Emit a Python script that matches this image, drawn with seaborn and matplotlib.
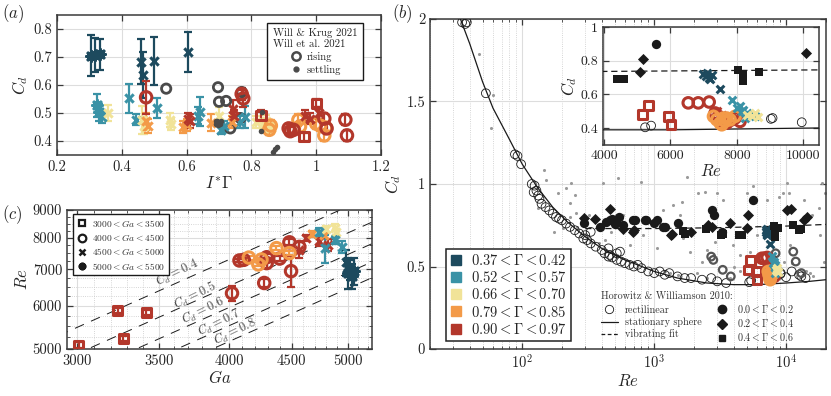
import numpy as np
import pandas as pd
import matplotlib
matplotlib.use("Agg")
import matplotlib.pyplot as plt
import seaborn as sns
from matplotlib.lines import Line2D
from matplotlib.ticker import FixedLocator, FuncFormatter, NullFormatter, LogLocator

# ---------------- data ----------------
COLORS = {"g1": "#1d4a5e", "g2": "#3a92a6", "g3": "#f1e398", "g4": "#f39a48", "g5": "#b3372b"}
GAMMA_LABELS = [r"$0.37 < \Gamma < 0.42$", r"$0.52 < \Gamma < 0.57$", r"$0.66 < \Gamma < 0.70$",
                r"$0.79 < \Gamma < 0.85$", r"$0.90 < \Gamma < 0.97$"]
GA_LABELS = [r"$3000 < Ga < 3500$", r"$4000 < Ga < 4500$", r"$4500 < Ga < 5000$", r"$5000 < Ga < 5500$"]

# panel (a): I*Gamma vs Cd
a_group = ["g1"] * 7 + ["g2"] * 12 + ["g3"] * 11 + ["g4"] * 14 + ["g5"] * 20
a_mark = (["st", "st", "st", "x", "x", "x", "x"]
          + ["st", "st", "x", "x", "x", "x", "x", "x", "x", "x", "x", "x"]
          + ["x"] * 11
          + ["x"] * 6 + ["ci"] * 8
          + ["ci", "x", "x", "ci", "ci", "x", "x", "sq", "ci", "ci", "ci", "sq", "sq", "x", "x", "x", "ci", "ci", "ci", "ci"])
a_ig = [0.305, 0.318, 0.332, 0.458, 0.466, 0.50, 0.603,
        0.325, 0.33, 0.34, 0.422, 0.445, 0.51, 0.642, 0.636, 0.705, 0.715, 0.765, 0.78,
        0.357, 0.463, 0.468, 0.548, 0.553, 0.70, 0.815, 0.835, 0.85, 0.862, 0.845,
        0.475, 0.48, 0.59, 0.60, 0.675, 0.74, 0.855, 0.945, 0.95, 1.0, 1.012, 1.025, 1.03, 0.86,
        0.475, 0.61, 0.605, 0.775, 0.77, 0.742, 0.745, 0.83, 0.915, 0.92, 0.93, 0.962, 1.0, 0.965, 0.98, 1.01,
        1.025, 1.032, 1.09, 1.095]
a_cd = [0.705, 0.708, 0.71, 0.683, 0.636, 0.685, 0.717,
        0.527, 0.503, 0.485, 0.553, 0.476, 0.517, 0.505, 0.49, 0.44, 0.452, 0.468, 0.485,
        0.50, 0.475, 0.455, 0.475, 0.46, 0.49, 0.468, 0.458, 0.45, 0.445, 0.472,
        0.47, 0.455, 0.45, 0.457, 0.465, 0.468, 0.44, 0.475, 0.452, 0.462, 0.455, 0.42, 0.448, 0.455,
        0.556, 0.47, 0.48, 0.552, 0.568, 0.515, 0.49, 0.49, 0.445, 0.435, 0.44, 0.415, 0.535, 0.49, 0.48, 0.50,
        0.48, 0.445, 0.476, 0.42]
a_err = [0.072, 0.06, 0.055, 0.08, 0.082, 0.085, 0.072,
         0.04, 0.03, 0.02, 0.052, 0.02, 0.035, 0.053, 0.03, 0.015, 0.02, 0.02, 0.04,
         0.03, 0.05, 0.03, 0.025, 0.02, 0.03, 0.02, 0.02, 0.02, 0.02, 0.02,
         0.03, 0.025, 0.02, 0.02, 0.03, 0.02, 0.02, 0.02, 0.02, 0.02, 0.02, 0.02, 0.02, 0.02,
         0.06, 0.025, 0.02, 0.03, 0.02, 0.03, 0.02, 0.02, 0.015, 0.015, 0.015, 0.015, 0.015, 0.02, 0.02, 0.02,
         0.02, 0.02, 0.02, 0.02]
# Will & Krug / Will et al. 2021
wk_rise_ig = [0.537, 0.697, 0.70, 0.722, 0.766, 0.735, 0.77]
wk_rise_cd = [0.587, 0.592, 0.54, 0.543, 0.482, 0.445, 0.575]
wk_settle_ig = [0.695, 0.70, 0.69, 0.705, 0.698, 0.692, 0.703, 0.833, 0.83, 0.868, 0.873, 0.878]
wk_settle_cd = [0.47, 0.465, 0.46, 0.47, 0.458, 0.472, 0.46, 0.502, 0.435, 0.362, 0.37, 0.377]

# panel (b): Re vs Cd
st_re = [34, 40, 50, 60, 80, 100, 130, 170, 220, 300, 400, 600, 1000, 1500, 2500, 4000, 6000, 10000, 15000, 20000]
st_cd = [2.0, 1.85, 1.62, 1.46, 1.27, 1.12, 0.98, 0.86, 0.77, 0.68, 0.61, 0.54, 0.47, 0.43, 0.40, 0.39, 0.39, 0.40, 0.41, 0.42]
vf_re = [300, 1000, 3000, 10000, 20000]
vf_cd = [0.73, 0.73, 0.735, 0.745, 0.755]
bg_re = [47, 60, 58, 147, 151, 186, 215, 234, 251, 228,
         408, 531, 175, 323, 421, 472, 256, 579, 1166, 1390,
         1563, 1656, 1862, 2285, 2494, 2884, 3147, 3980, 4467, 5320,
         5980, 8010, 9550, 10720, 12020, 15140, 18150, 19230, 3750, 2094,
         1312, 1040, 822, 651, 459, 324, 202, 131, 15670, 17600,
         12400, 800, 1757, 1611, 2421, 3335, 5020, 7130, 8740, 10420,
         13550, 18670, 10120, 2141, 3010, 5630, 9500, 19500, 230, 260,
         300, 380, 520, 700, 1200, 1500, 2500, 6000, 9000, 14000,
         16000, 11000, 4000, 4500]
bg_cd = [1.786, 1.54, 1.337, 1.085, 1.024, 0.947, 0.978, 1.008, 0.933, 0.883,
         1.004, 1.034, 0.711, 0.812, 0.66, 0.711, 0.822, 0.812, 0.842, 0.873,
         0.812, 0.67, 0.59, 0.529, 0.6, 0.65, 0.691, 0.63, 0.57, 0.59,
         0.691, 0.57, 0.529, 0.63, 0.469, 0.459, 0.691, 0.529, 0.428, 0.459,
         0.459, 0.61, 0.691, 0.63, 0.59, 0.65, 0.731, 0.853, 0.812, 0.853,
         0.731, 1.014, 1.044, 0.893, 0.954, 0.903, 0.948, 0.903, 0.923, 0.944,
         0.903, 1.004, 1.004, 0.944, 0.947, 0.99, 0.947, 0.947, 0.80, 0.74,
         0.70, 0.64, 0.57, 0.53, 0.47, 0.45, 0.43, 0.44, 0.43, 0.47,
         0.44, 0.52, 0.50, 0.47]
rc_re = [35, 37, 38, 53, 88, 92, 98, 118, 124, 122,
         128, 132, 135, 140, 150, 160, 170, 180, 190, 200,
         215, 230, 250, 270, 290, 310, 330, 360, 400, 420,
         450, 480, 520, 560, 600, 650, 700, 750, 800, 900,
         1000, 1100, 1200, 1300, 1500, 1700, 1900, 2300, 2700, 3000,
         3500, 5240, 5420, 9030, 9080, 9960, 11000, 12500, 13000, 14000,
         300, 330, 450, 520, 550, 460]
rc_cd = [1.98, 1.97, 1.98, 1.55, 1.18, 1.17, 1.12, 1.0, 0.99, 0.95,
         0.96, 0.93, 0.91, 0.88, 0.86, 0.84, 0.82, 0.80, 0.79, 0.78,
         0.76, 0.74, 0.72, 0.70, 0.67, 0.66, 0.64, 0.62, 0.60, 0.58,
         0.56, 0.555, 0.54, 0.53, 0.52, 0.51, 0.50, 0.51, 0.49, 0.47,
         0.46, 0.47, 0.45, 0.46, 0.44, 0.43, 0.43, 0.42, 0.43, 0.41,
         0.40, 0.405, 0.415, 0.455, 0.46, 0.435, 0.47, 0.45, 0.44, 0.43,
         0.69, 0.71, 0.61, 0.58, 0.59, 0.57]
wkb_re = [2700, 2800, 3300, 3800, 8300, 11300, 11800, 13000]
wkb_cd = [0.56, 0.54, 0.48, 0.44, 0.58, 0.59, 0.53, 0.46]
hc_re = [296, 385, 430, 459, 480, 500, 515, 540, 579, 690, 711, 846, 873, 1000, 1040, 1166, 1202, 1517, 2722, 2830, 3246, 5570]
hc_cd = [0.762, 0.741, 0.77, 0.782, 0.79, 0.76, 0.772, 0.80, 0.751, 0.782, 0.782, 0.782, 0.782, 0.762, 0.782, 0.741, 0.741, 0.762, 0.842, 0.812, 0.71, 0.90]
hd_re = [296, 355, 459, 579, 690, 700, 1350, 1370, 1900, 2550, 2720, 3760, 5085, 5165, 10090, 10800, 13600, 14300]
hd_cd = [0.796, 0.79, 0.85, 0.725, 0.71, 0.72, 0.69, 0.70, 0.71, 0.751, 0.74, 0.762, 0.735, 0.81, 0.845, 0.85, 0.78, 0.80]
hs_re = [1660, 1700, 2450, 3200, 3300, 4400, 4610, 8030, 8190, 8190, 8670, 11300, 12500, 12900]
hs_cd = [0.714, 0.70, 0.73, 0.69, 0.70, 0.69, 0.69, 0.744, 0.714, 0.68, 0.734, 0.75, 0.72, 0.73]
b_group = ["g5"] * 16 + ["g4"] * 9 + ["g1"] * 7 + ["g2"] * 9 + ["g3"] * 4
b_mark = ["sq"] * 4 + ["ci"] * 10 + ["x"] * 2 + ["ci"] * 9 + ["x"] * 7 + ["x"] * 9 + ["x"] * 4
b_re = [5165, 5335, 5940, 6020, 6540, 6840, 7170, 7350, 7450, 7550, 7700, 7850, 7950, 8100, 7400, 7550,
        7300, 7400, 7500, 7550, 7650, 7700, 7800, 7950, 7600,
        6980, 7080, 7150, 7200, 7250, 7100, 7500,
        7850, 8000, 8100, 8200, 8300, 8400, 8550, 8150, 8250,
        8300, 8450, 8650, 8550]
b_cd = [0.48, 0.535, 0.47, 0.42, 0.55, 0.55, 0.555, 0.49, 0.47, 0.44, 0.43, 0.45, 0.46, 0.44, 0.50, 0.48,
        0.47, 0.45, 0.43, 0.42, 0.44, 0.46, 0.45, 0.47, 0.46,
        0.72, 0.71, 0.70, 0.69, 0.715, 0.725, 0.635,
        0.565, 0.52, 0.53, 0.51, 0.49, 0.48, 0.47, 0.50, 0.46,
        0.48, 0.47, 0.465, 0.49]

# panel (c): Ga vs Re
c_group = ["g5"] * 18 + ["g4"] * 7 + ["g3"] * 3 + ["g2"] * 4 + ["g1"] * 6
c_mark = (["sq"] * 4 + ["ci"] * 10 + ["x"] * 4 + ["ci"] * 5 + ["x"] * 2 + ["x"] * 3 + ["x"] * 4
          + ["x", "st", "x", "st", "st", "x"])
c_ga = [3010, 3240, 3275, 3420, 4020, 4272, 4494, 4077, 4110, 4292, 4292, 4398, 4480, 4565, 4620, 4735, 4822, 4560,
        4150, 4225, 4372, 4480, 4250, 4676, 4780,
        4803, 4880, 4896,
        4735, 4880, 4950, 4790,
        4984, 5000, 5020, 5060, 5040, 4990]
c_re = [5080, 5880, 5230, 5830, 6330, 6610, 6950, 7270, 7290, 7370, 7190, 7330, 7850, 7700, 8000, 7880, 7760, 7600,
        7360, 7150, 7660, 7500, 7300, 8130, 8100,
        8300, 8350, 8200,
        8200, 7930, 7700, 7650,
        7215, 6900, 7000, 6950, 6800, 7050]
c_err = [60, 60, 60, 60, 200, 120, 450, 60, 60, 100, 150, 80, 100, 150, 100, 150, 200, 250,
         60, 60, 60, 60, 60, 100, 100,
         100, 120, 100,
         150, 150, 200, 450,
         400, 450, 300, 400, 350, 200]
cd_lines = [0.4, 0.5, 0.6, 0.7, 0.8]
cd_label_ga = [3623, 3748, 3808, 3921, 4045]
cd_label_re = [6910, 6270, 5890, 5600, 5370]

# ---------------- style ----------------
sns.set_theme(style="ticks")
plt.rcParams.update({
    "font.family": "serif", "font.serif": ["cmr10", "DejaVu Serif"],
    "mathtext.fontset": "cm", "axes.formatter.use_mathtext": True,
    "axes.unicode_minus": False, "legend.fancybox": False,
})

fig = plt.figure(figsize=(8.31, 3.96), dpi=100)
W, H = 831, 396
def box(l, t, r, b):
    return [l / W, 1 - b / H, (r - l) / W, (b - t) / H]
axA = fig.add_axes(box(57, 15, 381, 155))
axC = fig.add_axes(box(67, 210, 372, 349))
axB = fig.add_axes(box(430, 19, 826, 349))
axI = fig.add_axes(box(603, 27, 819, 145))

def style(ax, size=10.5):
    ax.set_axisbelow(True)
    ax.grid(True, which="major", color="#dddddd", lw=0.8)
    for s in ax.spines.values():
        s.set_color("#3a3a3a"); s.set_linewidth(1.1)
    ax.tick_params(which="both", direction="in", top=True, right=True, color="#3a3a3a",
                   labelcolor="#222222", labelsize=size)
    ax.tick_params(which="major", length=4, width=0.9)
    ax.tick_params(which="minor", length=2, width=0.6)

gfmt = FuncFormatter(lambda v, p: f"{v:g}")

def plot_colored(ax, df, xcol, ycol, errcol=None, scale=1.0):
    for (g, m), sub in df.groupby(["group", "mark"], sort=False):
        c = COLORS[g]
        if errcol is not None:
            ax.errorbar(sub[xcol], sub[ycol], yerr=sub[errcol], fmt="none", ecolor=c,
                        elinewidth=1.6, capsize=2.8, capthick=1.6, zorder=3)
        if m in ("sq", "ci"):
            kws = dict(marker="s" if m == "sq" else "o", s=(45 if m == "sq" else 68) * scale,
                       facecolor="none", edgecolor=c, linewidth=2.2, color=c)
        elif m == "x":
            kws = dict(marker="x", s=36 * scale, linewidth=2.2, color=c)
        else:
            kws = dict(marker=(8, 2, 0), s=48 * scale, linewidth=2.2, color=c)
        sns.scatterplot(data=sub, x=xcol, y=ycol, ax=ax, legend=False, zorder=4, **kws)

# ---------------- panel (a) ----------------
dfa = pd.DataFrame({"group": a_group, "mark": a_mark, "ig": a_ig, "cd": a_cd, "err": a_err})
style(axA)
sns.scatterplot(x=wk_rise_ig, y=wk_rise_cd, ax=axA, marker="o", s=45, facecolor="none",
                edgecolor="#4a4a4a", linewidth=2.0, color="#4a4a4a", legend=False, zorder=4)
plot_colored(axA, dfa, "ig", "cd", "err")
sns.scatterplot(x=wk_settle_ig, y=wk_settle_cd, ax=axA, marker="o", s=16, color="#4a4a4a",
                linewidth=0, legend=False, zorder=5)
axA.set_xlim(0.2, 1.2); axA.set_ylim(0.35, 0.85)
axA.xaxis.set_major_locator(FixedLocator([0.2, 0.4, 0.6, 0.8, 1.0, 1.2]))
axA.yaxis.set_major_locator(FixedLocator([0.4, 0.5, 0.6, 0.7, 0.8]))
axA.xaxis.set_major_formatter(gfmt); axA.yaxis.set_major_formatter(gfmt)
axA.set_xlabel(r"$I^{*}\Gamma$", fontsize=12, labelpad=1)
axA.set_ylabel(r"$C_d$", fontsize=12, labelpad=2)
hA = [Line2D([], [], ls="none", marker="o", mfc="none", mec="#4a4a4a", mew=1.8, ms=6),
      Line2D([], [], ls="none", marker="o", mfc="#4a4a4a", mec="#4a4a4a", ms=3.5)]
legA = axA.legend(hA, ["rising", "settling"], title="Will & Krug 2021\nWill et al. 2021",
                  loc="upper right", bbox_to_anchor=(0.944, 0.945), borderaxespad=0,
                  fontsize=7.8, title_fontsize=7.8, frameon=True, handlelength=1.2,
                  handletextpad=0.4, labelspacing=0.25, borderpad=0.5)
legA.get_frame().set_edgecolor("k"); legA.get_frame().set_linewidth(1.0); legA.get_frame().set_alpha(1)

# ---------------- panel (c) ----------------
dfc = pd.DataFrame({"group": c_group, "mark": c_mark, "ga": c_ga, "re": c_re, "err": c_err})
style(axC)
axC.set_xscale("log"); axC.set_yscale("log")
ga_line = np.array([2900.0, 5400.0])
for cdv in cd_lines:
    sns.lineplot(x=ga_line, y=ga_line * np.sqrt(4.0 / (3.0 * cdv)), ax=axC, color="k", lw=0.7,
                 linestyle=(0, (10, 8)), sort=False, estimator=None, zorder=2)
for cdv, gx, ry in zip(cd_lines, cd_label_ga, cd_label_re):
    axC.text(gx, ry, rf"$C_d = {cdv:g}$", rotation=26, ha="center", va="center",
             rotation_mode="anchor", fontsize=9, color="#444444", zorder=2)
plot_colored(axC, dfc, "ga", "re", "err")
axC.set_xlim(2944, 5236); axC.set_ylim(5000, 9000)
axC.xaxis.set_major_locator(FixedLocator([3000, 3500, 4000, 4500, 5000]))
axC.yaxis.set_major_locator(FixedLocator([5000, 6000, 7000, 8000, 9000]))
axC.xaxis.set_minor_locator(FixedLocator([v for v in range(3000, 5300, 100) if v % 500]))
axC.yaxis.set_minor_locator(FixedLocator([v for v in range(5000, 9000, 250) if v % 1000]))
axC.xaxis.set_major_formatter(gfmt); axC.yaxis.set_major_formatter(gfmt)
axC.xaxis.set_minor_formatter(NullFormatter()); axC.yaxis.set_minor_formatter(NullFormatter())
axC.grid(True, which="minor", color="#c8c8c8", lw=0.6, ls=":")
axC.set_xlabel(r"$Ga$", fontsize=12, labelpad=1)
axC.set_ylabel(r"$Re$", fontsize=12, labelpad=2)
hC = [Line2D([], [], ls="none", marker="s", mfc="none", mec="k", mew=1.6, ms=5),
      Line2D([], [], ls="none", marker="o", mfc="none", mec="k", mew=1.6, ms=5.5),
      Line2D([], [], ls="none", marker="x", color="k", mew=1.8, ms=4.5),
      Line2D([], [], ls="none", marker=(8, 2, 0), color="k", mew=1.8, ms=5.5)]
legC = axC.legend(hC, GA_LABELS, loc="upper left", bbox_to_anchor=(0.02, 0.972), borderaxespad=0,
                  fontsize=6.8, frameon=True, handlelength=1.0, handletextpad=0.6, labelspacing=0.35,
                  borderpad=0.4)
legC.get_frame().set_edgecolor("k"); legC.get_frame().set_linewidth(1.0); legC.get_frame().set_alpha(1)
for t in legC.get_texts():
    t.set_color("#333333")

# ---------------- panel (b) ----------------
dfb = pd.DataFrame({"group": b_group, "mark": b_mark, "re": b_re, "cd": b_cd})

def draw_b(ax, inset=False):
    if not inset:
        sns.scatterplot(x=bg_re, y=bg_cd, ax=ax, s=5, color="#9a9a9a", linewidth=0, legend=False, zorder=2)
    sns.lineplot(x=st_re, y=st_cd, ax=ax, color="k", lw=0.9, sort=False, estimator=None, zorder=3)
    sns.lineplot(x=vf_re, y=vf_cd, ax=ax, color="k", lw=0.9, linestyle=(0, (5, 3)), sort=False,
                 estimator=None, zorder=3)
    sns.scatterplot(x=rc_re, y=rc_cd, ax=ax, marker="o", s=40, facecolor="none", edgecolor="k",
                    linewidth=0.6, color="k", legend=False, zorder=4)
    if not inset:
        sns.scatterplot(x=wkb_re, y=wkb_cd, ax=ax, marker="o", s=30, facecolor="none", edgecolor="#555555",
                        linewidth=1.6, color="#555555", legend=False, zorder=4)
    sns.scatterplot(x=hc_re, y=hc_cd, ax=ax, marker="o", s=45, color="k", linewidth=0, legend=False, zorder=5)
    sns.scatterplot(x=hd_re, y=hd_cd, ax=ax, marker="D", s=32, color="k", linewidth=0, legend=False, zorder=5)
    sns.scatterplot(x=hs_re, y=hs_cd, ax=ax, marker="s", s=30, color="k", linewidth=0, legend=False, zorder=5)
    plot_colored(ax, dfb, "re", "cd", None, scale=0.85)

style(axB)
axB.set_xscale("log")
draw_b(axB)
axB.set_xlim(20, 20000); axB.set_ylim(0, 2)
axB.yaxis.set_major_locator(FixedLocator([0, 0.5, 1, 1.5, 2]))
axB.yaxis.set_major_formatter(gfmt)
axB.xaxis.set_minor_locator(LogLocator(base=10, subs=np.arange(2, 10)))
axB.xaxis.set_minor_formatter(NullFormatter())
axB.grid(True, which="minor", axis="x", color="#c8c8c8", lw=0.6, ls=":")
axB.set_xlabel(r"$Re$", fontsize=12, labelpad=1)
axB.set_ylabel(r"$C_d$", fontsize=12, labelpad=2)

hG = [Line2D([], [], ls="none", marker="s", color=COLORS[g], ms=7) for g in ["g1", "g2", "g3", "g4", "g5"]]
legG = axB.legend(hG, GAMMA_LABELS, loc="lower left", bbox_to_anchor=(0.04, 0.024), borderaxespad=0,
                  fontsize=10.5, frameon=True, handlelength=0.8, handletextpad=0.6, labelspacing=0.15,
                  borderpad=0.3)
legG.get_frame().set_edgecolor("#222222"); legG.get_frame().set_linewidth(1.1); legG.get_frame().set_alpha(1)
axB.add_artist(legG)
hH = [Line2D([], [], ls="none", marker="o", mfc="none", mec="k", mew=0.6, ms=6),
      Line2D([], [], color="k", lw=0.9),
      Line2D([], [], color="k", lw=0.9, ls=(0, (3, 2))),
      Line2D([], [], ls="none", marker="o", color="k", ms=6),
      Line2D([], [], ls="none", marker="D", color="k", ms=5),
      Line2D([], [], ls="none", marker="s", color="k", ms=5)]
lH = ["rectilinear", "stationary sphere", "vibrating fit",
      r"$0.0 < \Gamma < 0.2$", r"$0.2 < \Gamma < 0.4$", r"$0.4 < \Gamma < 0.6$"]
legH = axB.legend(hH, lH, ncol=2, title="Horowitz & Williamson 2010:", loc="upper left",
                  bbox_to_anchor=(0.43, 0.178), borderaxespad=0, fontsize=7.3, title_fontsize=7.3,
                  frameon=False, handlelength=1.6, handletextpad=0.7, labelspacing=0.22,
                  columnspacing=1.2, alignment="left", borderpad=0.1)
for t in legH.get_texts():
    t.set_color("#333333")
legH.get_title().set_color("#333333")

# ---------------- inset ----------------
style(axI, size=10)
axI.set_facecolor("white")
draw_b(axI, inset=True)
axI.set_xlim(3970, 10480); axI.set_ylim(0.3, 1.0)
axI.xaxis.set_major_locator(FixedLocator([4000, 6000, 8000, 10000]))
axI.yaxis.set_major_locator(FixedLocator([0.4, 0.6, 0.8, 1.0]))
axI.xaxis.set_major_formatter(gfmt); axI.yaxis.set_major_formatter(gfmt)
axI.set_xlabel(r"$Re$", fontsize=12, labelpad=1)
axI.set_ylabel(r"$C_d$", fontsize=12, labelpad=1)

# panel labels
fig.text(0.002, 0.995, r"$(a)$", fontsize=12, va="top", ha="left")
fig.text(392 / W, 0.995, r"$(b)$", fontsize=12, va="top", ha="left")
fig.text(0.002, 1 - 203 / H, r"$(c)$", fontsize=12, va="top", ha="left")

fig.savefig("out.png", dpi=100)
